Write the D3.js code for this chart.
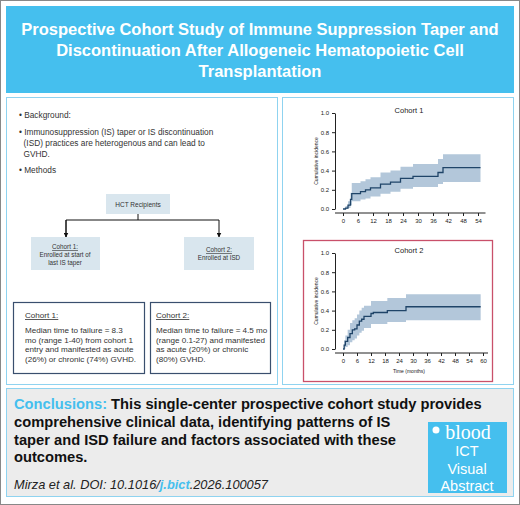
<!DOCTYPE html>
<html><head><meta charset="utf-8">
<script src="https://cdn.jsdelivr.net/npm/d3@7"></script>
<style>body{margin:0;background:#fff}svg{display:block;font-family:"Liberation Sans",Arial,sans-serif}</style>
</head><body><svg id="va" width="520" height="505"></svg>
<script>
// cohort 1 cumulative incidence (months, estimate, lower, upper)
var c1Time  = [0, 1, 2, 3, 3.5, 7, 9, 11, 15, 19, 23, 28, 38, 40, 55];
var c1Est   = [0, 0.01, 0.04, 0.10, 0.16, 0.18, 0.20, 0.22, 0.26, 0.28, 0.32, 0.34, 0.38, 0.43, 0.43];
var c1Low   = [0, 0, 0.01, 0.04, 0.08, 0.10, 0.11, 0.13, 0.16, 0.18, 0.21, 0.23, 0.26, 0.28, 0.28];
var c1High  = [0, 0.03, 0.08, 0.17, 0.27, 0.29, 0.31, 0.33, 0.38, 0.40, 0.44, 0.47, 0.52, 0.57, 0.57];
var c1Ticks = [0, 6, 12, 18, 24, 30, 36, 42, 48, 54];
// cohort 2
var c2Time  = [0, 0.5, 1, 2, 3, 4, 5, 6, 7, 8, 9, 12, 13, 19, 27, 59];
var c2Est   = [0, 0.04, 0.08, 0.12, 0.16, 0.20, 0.21, 0.25, 0.29, 0.31, 0.34, 0.37, 0.38, 0.40, 0.44, 0.44];
var c2Low   = [0, 0, 0.02, 0.04, 0.07, 0.09, 0.11, 0.14, 0.17, 0.19, 0.22, 0.26, 0.26, 0.28, 0.30, 0.30];
var c2High  = [0, 0.09, 0.14, 0.20, 0.27, 0.30, 0.32, 0.36, 0.40, 0.43, 0.45, 0.50, 0.50, 0.53, 0.57, 0.57];
var c2Ticks = [0, 6, 12, 18, 24, 30, 36, 42, 48, 54, 60];
var yTicks  = [0, 0.2, 0.4, 0.6, 0.8, 1.0];

var svg = d3.select("#va");
var blue = "#45bfee", pale = "#8fd3f0";

svg.append("rect").attr("x",0.5).attr("y",0.5).attr("width",519).attr("height",504).attr("fill","#fff").attr("stroke","#888");
svg.append("rect").attr("x",6).attr("y",6).attr("width",508).attr("height",87).attr("fill",blue);
["Prospective Cohort Study of Immune Suppression Taper and","Discontinuation After Allogeneic Hematopoietic Cell","Transplantation"].forEach(function(t,i){
  svg.append("text").attr("x",260).attr("y",35+i*21).attr("text-anchor","middle").attr("fill","#fff")
    .attr("font-weight","bold").attr("font-size",16.5).text(t);
});

svg.append("rect").attr("x",6.5).attr("y",97.5).attr("width",271).attr("height",287).attr("fill","#fff").attr("stroke",pale);
svg.append("rect").attr("x",282.5).attr("y",97.5).attr("width",231).attr("height",287).attr("fill","#fff").attr("stroke",pale);

// left panel text
var lt = svg.append("g").attr("font-size",8.3).attr("fill","#333");
[["• Background:",118],["• Immunosuppression (IS) taper or IS discontinuation",135],["  (ISD) practices are heterogenous and can lead to",146],["  GVHD.",157],["• Methods",173]]
  .forEach(function(d){ lt.append("text").attr("x",19).attr("y",d[1]).attr("xml:space","preserve").text(d[0]); });

svg.append("rect").attr("x",106).attr("y",194).attr("width",64).attr("height",20).attr("fill","#d9e6ee");
svg.append("text").attr("x",138).attr("y",207).attr("text-anchor","middle").attr("font-size",6.5).attr("fill","#333").text("HCT Recipients");
svg.append("defs").append("marker").attr("id","ar").attr("viewBox","0 0 10 10").attr("refX",9).attr("refY",5)
  .attr("markerWidth",5).attr("markerHeight",5).attr("orient","auto")
  .append("path").attr("d","M0,0L10,5L0,10z").attr("fill","#111");
svg.append("path").attr("d","M138,214V220M66,237V220H219V237").attr("fill","none").attr("stroke","#111").attr("marker-end","url(#ar)");
svg.append("path").attr("d","M66,220V237").attr("fill","none").attr("stroke","#111").attr("marker-end","url(#ar)");
svg.append("rect").attr("x",31).attr("y",237).attr("width",69).attr("height",33).attr("fill","#d9e6ee");
svg.append("rect").attr("x",184).attr("y",237).attr("width",70).attr("height",33).attr("fill","#d9e6ee");
var bt = svg.append("g").attr("font-size",6.3).attr("fill","#333").attr("text-anchor","middle");
bt.append("text").attr("x",65).attr("y",249).attr("text-decoration","underline").text("Cohort 1:");
bt.append("text").attr("x",65).attr("y",257).text("Enrolled at start of");
bt.append("text").attr("x",65).attr("y",265).text("last IS taper");
bt.append("text").attr("x",219).attr("y",252).attr("text-decoration","underline").text("Cohort 2:");
bt.append("text").attr("x",219).attr("y",260).text("Enrolled at ISD");

svg.append("rect").attr("x",13.5).attr("y",302.5).attr("width",131).attr("height",71).attr("fill","none").attr("stroke","#3a4f6e").attr("stroke-width",1.2);
svg.append("rect").attr("x",150.5).attr("y",302.5).attr("width",120).attr("height",71).attr("fill","none").attr("stroke","#3a4f6e").attr("stroke-width",1.2);
var ct = svg.append("g").attr("font-size",8.1).attr("fill","#333");
[["Cohort 1:",25,318,1],["Median time to failure = 8.3",25,333],["mo (range 1-40) from cohort 1",25,342.5],["entry and manifested as acute",25,352],["(26%) or chronic (74%) GVHD.",25,361.5],
 ["Cohort 2:",156,318,1],["Median time to failure = 4.5 mo",156,333],["(range 0.1-27) and manifested",156,342.5],["as acute (20%) or chronic",156,352],["(80%) GVHD.",156,361.5]]
 .forEach(function(d){ var t=ct.append("text").attr("x",d[1]).attr("y",d[2]).text(d[0]); if(d[3]) t.attr("text-decoration","underline"); });

svg.append("rect").attr("x",303.5).attr("y",240.5).attr("width",189).attr("height",141).attr("fill","none").attr("stroke","#c9506a").attr("stroke-width",1.3);

function plot(title, time, est, low, high, xt, xmax, x0px, x1px, ytop, ybot, showX){
  var x = d3.scaleLinear().domain([0, xt[xt.length-1]]).range([x0px, x1px]);
  var y = d3.scaleLinear().domain([0,1]).range([ybot, ytop]);
  var g = svg.append("g");
  var pts = time.map(function(t,i){ return {t:t,e:est[i],l:low[i],h:high[i]}; });
  g.append("path").datum(pts).attr("fill","#b3c7da")
    .attr("d", d3.area().curve(d3.curveStepAfter).x(function(d){return x(d.t);}).y0(function(d){return y(d.l);}).y1(function(d){return y(d.h);}));
  g.append("path").datum(pts).attr("fill","none").attr("stroke","#1f4468").attr("stroke-width",1.3)
    .attr("d", d3.line().curve(d3.curveStepAfter).x(function(d){return x(d.t);}).y(function(d){return y(d.e);}));
  var ya = g.append("g").attr("transform","translate(335,0)").call(d3.axisLeft(y).tickValues(yTicks).tickFormat(d3.format(".1f")).tickSize(3).tickSizeOuter(0));
  var xa = g.append("g").attr("transform","translate(0,"+(ybot+4)+")").call(d3.axisBottom(x).tickValues(xt).tickSize(3).tickSizeOuter(0));
  xa.select(".domain").attr("d","M335,0H"+(x(xmax)+5));
  [ya,xa].forEach(function(a){ a.selectAll("text").attr("font-size",6).attr("fill","#222").attr("font-family","Liberation Sans, Arial"); a.selectAll("line,path").attr("stroke","#222"); });
  g.append("text").attr("x",409).attr("y",ytop).attr("text-anchor","middle").attr("font-size",7.5).attr("fill","#222").text(title);
  g.append("text").attr("transform","translate(318,"+((ytop+ybot)/2)+") rotate(-90)").attr("text-anchor","middle").attr("font-size",5).attr("fill","#222").text("Cumulative incidence");
  if(showX) g.append("text").attr("x",409).attr("y",ybot+24).attr("text-anchor","middle").attr("font-size",5).attr("fill","#222").text("Time (months)");
}
plot("Cohort 1", c1Time, c1Est, c1Low, c1High, c1Ticks, 55, 343, 478, 113, 209, false);
plot("Cohort 2", c2Time, c2Est, c2Low, c2High, c2Ticks, 60, 343, 483, 253, 349, true);

// conclusions
svg.append("rect").attr("x",6.5).attr("y",388.5).attr("width",507).attr("height",108).attr("fill","#ececec").attr("stroke",pale);
var cc = svg.append("g").attr("font-weight","bold").attr("font-size",14.7).attr("fill","#111");
var l0 = cc.append("text").attr("x",14).attr("y",409);
l0.append("tspan").attr("fill",blue).text("Conclusions: ");
l0.append("tspan").text("This single-center prospective cohort study provides");
["comprehensive clinical data, identifying patterns of IS","taper and ISD failure and factors associated with these","outcomes."].forEach(function(t,i){
  cc.append("text").attr("x",14).attr("y",427+i*17.5).text(t);
});
var doi = svg.append("text").attr("x",14).attr("y",489).attr("font-style","italic").attr("font-size",12.8).attr("fill","#222");
doi.append("tspan").text("Mirza et al. DOI: 10.1016/");
doi.append("tspan").attr("fill",blue).attr("font-weight","bold").text("j.bict");
doi.append("tspan").text(".2026.100057");

svg.append("rect").attr("x",428).attr("y",422).attr("width",79).attr("height",71).attr("fill",blue);
svg.append("circle").attr("cx",436).attr("cy",430).attr("r",3.5).attr("fill","#fff");
svg.append("text").attr("x",468).attr("y",439).attr("text-anchor","middle").attr("font-family","Liberation Serif, serif").attr("font-size",20).attr("fill","#fff").text("blood");
["ICT","Visual","Abstract"].forEach(function(t,i){
  svg.append("text").attr("x",467).attr("y",456+i*17.5).attr("text-anchor","middle").attr("font-size",14.5).attr("fill","#fff").text(t);
});
</script></body></html>
